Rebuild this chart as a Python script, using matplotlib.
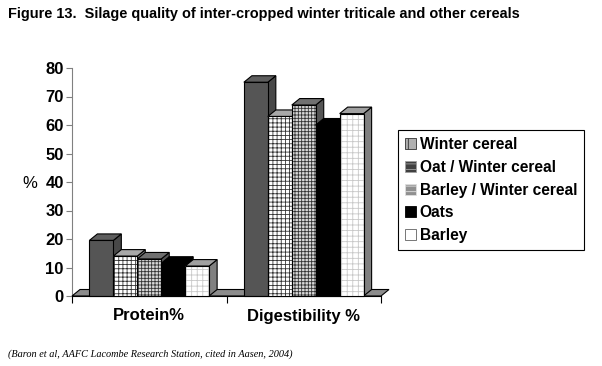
import matplotlib
matplotlib.use('Agg')
import matplotlib.pyplot as plt
from matplotlib.patches import Polygon, Patch

categories = ['Protein%', 'Digestibility %']
series = ['Winter cereal', 'Oat / Winter cereal', 'Barley / Winter cereal', 'Oats', 'Barley']
winter_cereal = [19.5, 75.0]
oat_winter = [14.0, 63.0]
barley_winter = [13.0, 67.0]
oats = [11.5, 60.0]
barley = [10.5, 64.0]
yticks = [0, 10, 20, 30, 40, 50, 60, 70, 80]

values = [winter_cereal, oat_winter, barley_winter, oats, barley]

plt.rcParams['font.family'] = ['Liberation Sans', 'DejaVu Sans']
plt.rcParams['hatch.linewidth'] = 0.6

# styles: front face color, hatch, hatch color, top color, side color
front = ['#555555', 'white', '#d8d8d8', 'black', 'white']
hatches = [None, '++++', '+++++', None, '+++']
hcols = ['#555555', '#333333', '#333333', 'black', '#c8c8c8']
tops = ['#5e5e5e', '#a8a8a8', '#707070', 'black', '#a0a0a0']
sides = ['#484848', '#7a7a7a', '#555555', 'black', '#808080']

fig = plt.figure(figsize=(6.02, 3.66), dpi=100)
ax = fig.add_axes([72/602, 1-296/366, 309/602, 228/366])
ax.set_xlim(0, 2)
ax.set_ylim(0, 80)

w = 0.155
dx = 8/154.5
dy = 6.5/2.85

# floor
floor = Polygon([(0, 0), (2, 0), (2+dx, dy), (dx, dy)], closed=True,
                facecolor='#8c8c8c', edgecolor='black', linewidth=0.8,
                zorder=1, clip_on=False)
ax.add_patch(floor)

centers = [0.5, 1.5]
for c, cx in enumerate(centers):
    for i in range(5):
        h = values[i][c]
        x0 = cx + (i - 2) * w - w/2
        z = 2 + i
        side = Polygon([(x0+w, 0), (x0+w+dx, dy), (x0+w+dx, h+dy), (x0+w, h)],
                       closed=True, facecolor=sides[i], edgecolor='black',
                       linewidth=0.8, zorder=z, clip_on=False)
        top = Polygon([(x0, h), (x0+w, h), (x0+w+dx, h+dy), (x0+dx, h+dy)],
                      closed=True, facecolor=tops[i], edgecolor='black',
                      linewidth=0.8, zorder=z, clip_on=False)
        ax.add_patch(side)
        ax.add_patch(top)
        ax.bar(x0, h, width=w, align='edge', color=front[i], edgecolor=hcols[i],
               linewidth=0, hatch=hatches[i], zorder=z+0.3, clip_on=False)
        ax.bar(x0, h, width=w, align='edge', fill=False, edgecolor='black',
               linewidth=0.8, zorder=z+0.5, clip_on=False)

for s in ['top', 'right']:
    ax.spines[s].set_visible(False)
ax.spines['left'].set_color('#808080')
ax.spines['left'].set_zorder(0.5)
ax.spines['bottom'].set_color('black')
ax.spines['bottom'].set_linewidth(0.8)

ax.set_yticks(yticks)
ax.set_yticklabels([str(v) for v in yticks], fontsize=12, fontweight='bold')
ax.tick_params(axis='y', direction='out', length=4, color='#808080', pad=2)

ax.set_xticks([0, 1, 2])
ax.set_xticklabels(['', '', ''])
ax.tick_params(axis='x', which='major', direction='out', length=5, color='black')
ax.set_xticks(centers, minor=True)
ax.set_xticklabels(categories, minor=True, fontsize=12, fontweight='bold')
ax.tick_params(axis='x', which='minor', length=0, pad=9)

fig.text(30/602, 1-183/366, '%', fontsize=12, ha='center', va='center')

# legend (swatches as drawn in the original legend)
handles = [
    Patch(facecolor='#b0b0b0', edgecolor='#303030', hatch='|', linewidth=0.6),
    Patch(facecolor='#404040', edgecolor='#a0a0a0', hatch='---', linewidth=0.6),
    Patch(facecolor='#909090', edgecolor='#e0e0e0', hatch='---', linewidth=0.6),
    Patch(facecolor='black', edgecolor='black', linewidth=0.6),
    Patch(facecolor='white', edgecolor='#606060', linewidth=0.6),
]
leg = fig.legend(handles, series, loc='upper left',
                 bbox_to_anchor=(398/602, 1-130/366), borderaxespad=0,
                 fancybox=False, edgecolor='black', framealpha=1,
                 prop={'weight': 'bold', 'size': 11.2},
                 handlelength=0.7, handleheight=0.7, handletextpad=0.25,
                 labelspacing=0.5, borderpad=0.45)
leg.get_frame().set_linewidth(0.8)

fig.text(8/602, 1-14/366,
         'Figure 13.  Silage quality of inter-cropped winter triticale and other cereals',
         fontsize=10.45, fontweight='bold', va='center', ha='left')
fig.text(8/602, 1-354/366,
         '(Baron et al, AAFC Lacombe Research Station, cited in Aasen, 2004)',
         fontsize=7.4, family=['Liberation Serif', 'DejaVu Serif'], style='italic',
         va='center', ha='left')

fig.savefig('out.png', dpi=100)
